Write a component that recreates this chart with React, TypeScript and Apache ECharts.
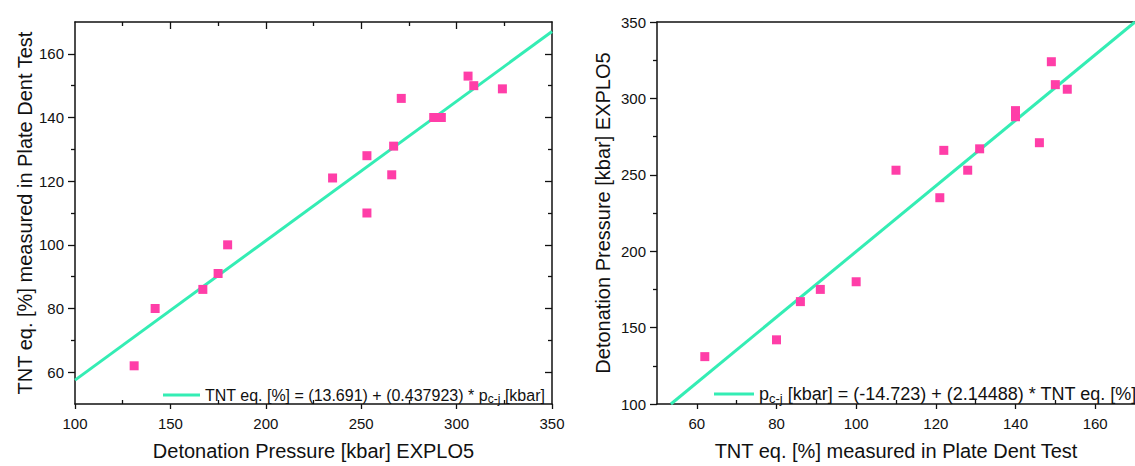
import React, { useEffect, useRef } from "react";
import * as echarts from "echarts";

// Measured data (same compounds in both panels)
const pressureKbar = [131, 142, 167, 175, 180, 235, 253, 253, 266, 267, 271, 288, 292, 306, 309, 324];
const tntEqPct = [62, 80, 86, 91, 100, 121, 128, 110, 122, 131, 146, 140, 140, 153, 150, 149];

// Fit line end points
const fitLeft = [[100, 57.5], [350, 167]];
const fitRight = [[53.5, 100], [170, 350]];

const leftXMajor = [100, 150, 200, 250, 300, 350];
const leftXMinor = [125, 175, 225, 275, 325];
const leftYMajor = [60, 80, 100, 120, 140, 160];
const leftYMinor = [70, 90, 110, 130, 150];
const rightXMajor = [60, 80, 100, 120, 140, 160];
const rightXMinor = [70, 90, 110, 130, 150];
const rightYMajor = [100, 150, 200, 250, 300, 350];
const rightYMinor = [125, 175, 225, 275, 325];

const legendLeft = "{t|TNT eq. [%] = (13.691) + (0.437923) * p}{sub|c-j}{t| [kbar]}";
const legendRight = "{t|p}{sub|c-j}{t| [kbar] = (-14.723) + (2.14488) * TNT eq. [%]}";

const FONT = "'Liberation Sans', Arial, sans-serif";
const LINE_COLOR = "#34EDB4";
const PT_COLOR = "#FF3EA8";
const AX = "#111111";

export default function App() {
  const ref = useRef<HTMLDivElement>(null);
  useEffect(() => {
    if (!ref.current) return;
    const chart = echarts.init(ref.current, undefined, { renderer: "svg" });

    const lineAx = { show: true, onZero: false, lineStyle: { color: AX, width: 1.5 } };
    const noLine = { show: false, onZero: false };
    const noLabel = { show: false };
    const lbl = { color: AX, fontSize: 15, fontFamily: FONT };

    const overlay = (
      gridIndex: number,
      position: string,
      min: number,
      max: number,
      interval: number,
      values: number[],
      inside: boolean,
      length: number,
      showLine: boolean
    ) => ({
      type: "value",
      gridIndex,
      position,
      min,
      max,
      interval,
      axisLine: showLine ? lineAx : noLine,
      axisLabel: noLabel,
      splitLine: { show: false },
      axisTick: {
        show: values.length > 0,
        inside,
        length,
        customValues: values,
        lineStyle: { color: AX, width: 1.3 },
      },
    });

    const legendText = (size: number, subSize: number) => ({
      color: AX,
      fontSize: size,
      fontFamily: FONT,
      rich: {
        t: { fontSize: size, fontFamily: FONT, color: AX, lineHeight: size + 4, verticalAlign: "middle" },
        sub: { fontSize: subSize, fontFamily: FONT, color: AX, verticalAlign: "bottom", lineHeight: subSize },
      },
    });

    const option: any = {
      animation: false,
      backgroundColor: "#ffffff",
      textStyle: { fontFamily: FONT },
      grid: [
        { left: 75, top: 22, width: 477, height: 385 },
        { left: 657, top: 22, width: 486, height: 385 },
      ],
      xAxis: [
        {
          type: "value",
          gridIndex: 0,
          position: "bottom",
          min: 100,
          max: 350,
          interval: 50,
          axisLine: lineAx,
          axisTick: { show: true, length: 5, lineStyle: { color: AX, width: 1.3 } },
          axisLabel: { ...lbl, margin: 12, customValues: leftXMajor },
          splitLine: { show: false },
          name: "Detonation Pressure [kbar] EXPLO5",
          nameLocation: "middle",
          nameGap: 37,
          nameTextStyle: { color: AX, fontSize: 20, fontFamily: FONT },
        },
        overlay(0, "bottom", 100, 350, 50, leftXMinor, true, 4, false),
        overlay(0, "top", 100, 350, 50, [150, 200, 250, 300], true, 7, true),
        overlay(0, "top", 100, 350, 50, leftXMinor, true, 4, false),
        {
          type: "value",
          gridIndex: 1,
          position: "bottom",
          min: 50,
          max: 170,
          interval: 10,
          axisLine: lineAx,
          axisTick: { show: true, length: 5, customValues: rightXMajor, lineStyle: { color: AX, width: 1.3 } },
          axisLabel: { ...lbl, margin: 12, customValues: rightXMajor },
          splitLine: { show: false },
          name: "TNT eq. [%] measured in Plate Dent Test",
          nameLocation: "middle",
          nameGap: 37,
          nameTextStyle: { color: AX, fontSize: 20, fontFamily: FONT },
        },
        overlay(1, "bottom", 50, 170, 10, rightXMinor, true, 4, false),
        overlay(1, "top", 50, 170, 10, [], true, 4, true),
      ],
      yAxis: [
        {
          type: "value",
          gridIndex: 0,
          position: "left",
          min: 50,
          max: 170,
          interval: 10,
          axisLine: lineAx,
          axisTick: { show: true, length: 7, customValues: leftYMajor, lineStyle: { color: AX, width: 1.3 } },
          axisLabel: { ...lbl, margin: 11, customValues: leftYMajor },
          splitLine: { show: false },
          name: "TNT eq. [%] measured in Plate Dent Test",
          nameLocation: "middle",
          nameGap: 38,
          nameTextStyle: { color: AX, fontSize: 20, fontFamily: FONT },
        },
        overlay(0, "left", 50, 170, 10, leftYMinor, false, 4, false),
        overlay(0, "right", 50, 170, 10, leftYMajor, true, 7, true),
        overlay(0, "right", 50, 170, 10, leftYMinor, true, 4, false),
        {
          type: "value",
          gridIndex: 1,
          position: "left",
          min: 100,
          max: 350,
          interval: 50,
          axisLine: lineAx,
          axisTick: { show: true, length: 7, lineStyle: { color: AX, width: 1.3 } },
          axisLabel: { ...lbl, margin: 11, customValues: rightYMajor },
          splitLine: { show: false },
          name: "Detonation Pressure [kbar] EXPLO5",
          nameLocation: "middle",
          nameGap: 44,
          nameTextStyle: { color: AX, fontSize: 20, fontFamily: FONT },
        },
        overlay(1, "left", 100, 350, 50, rightYMinor, false, 4, false),
      ],
      legend: [
        {
          data: ["fitLeft"],
          left: 158,
          top: 382,
          icon: "rect",
          itemWidth: 37,
          itemHeight: 3,
          itemGap: 5,
          formatter: () => legendLeft,
          textStyle: legendText(16, 12),
        },
        {
          data: ["fitRight"],
          left: 709,
          top: 380,
          icon: "rect",
          itemWidth: 40,
          itemHeight: 3,
          itemGap: 4,
          formatter: () => legendRight,
          textStyle: legendText(18, 13),
        },
      ],
      series: [
        {
          name: "fitLeft",
          type: "line",
          xAxisIndex: 0,
          yAxisIndex: 0,
          data: fitLeft,
          symbol: "none",
          clip: true,
          lineStyle: { color: LINE_COLOR, width: 3 },
          itemStyle: { color: LINE_COLOR },
          z: 2,
        },
        {
          name: "ptsLeft",
          type: "scatter",
          xAxisIndex: 0,
          yAxisIndex: 0,
          data: pressureKbar.map((p, i) => [p, tntEqPct[i]]),
          symbol: "rect",
          symbolSize: 9,
          itemStyle: { color: PT_COLOR, opacity: 1 },
          z: 3,
        },
        {
          name: "fitRight",
          type: "line",
          xAxisIndex: 4,
          yAxisIndex: 4,
          data: fitRight,
          symbol: "none",
          clip: true,
          lineStyle: { color: LINE_COLOR, width: 3 },
          itemStyle: { color: LINE_COLOR },
          z: 2,
        },
        {
          name: "ptsRight",
          type: "scatter",
          xAxisIndex: 4,
          yAxisIndex: 4,
          data: tntEqPct.map((t, i) => [t, pressureKbar[i]]),
          symbol: "rect",
          symbolSize: 9,
          itemStyle: { color: PT_COLOR, opacity: 1 },
          z: 3,
        },
      ],
    };

    chart.setOption(option);
    return () => chart.dispose();
  }, []);

  return (
    <div
      ref={ref}
      style={{ position: "absolute", left: 0, top: 0, width: 1135, height: 466, background: "#fff" }}
    />
  );
}
